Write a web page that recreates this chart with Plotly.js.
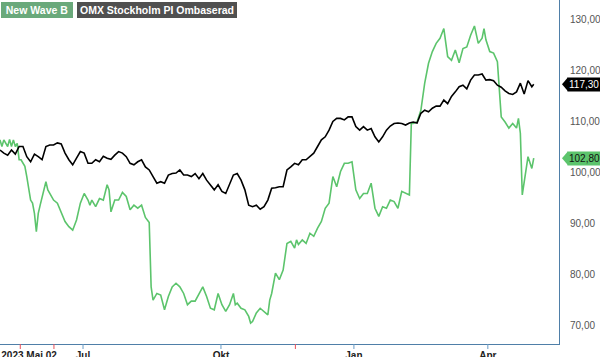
<!DOCTYPE html>
<html>
<head>
<meta charset="utf-8">
<script src="https://cdn.plot.ly/plotly-3.0.1.min.js"></script>
<style>html,body{margin:0;padding:0;background:#fff;}#chart{width:600px;height:357px;}</style>
</head>
<body>
<div id="chart"></div>
<script>
// Session index (x) and values
const nwDays = [0,1,2,4,5,6,7,8,9,10,11,12,13,14,15,16,17,18,19,20,21,22,23,24,25,26,28,30,32,34,36,38,40,42,44,46,47,48,50,52,54,56,57,58,60,62,64,66,68,70,72,74,76,78,79,80,82,84,86,88,90,92,94,96,98,100,102,104,106,108,110,112,114,116,118,120,122,123,124,126,128,130,131,132,134,136,138,140,141,142,144,146,148,150,152,154,155,156,158,160,162,164,166,168,170,172,174,176,178,180,182,184,186,188,190,192,194,196,198,200,202,204,206,208,210,212,214,215,216,218,220,222,224,226,228,230,232,234,236,238,240,242,244,246,248,250,252,253,254,256,258,260,262,264,266,268,270,271,272,273,275,276,278,279];
const nwValues = [106.4,105.1,106.4,105.1,106.5,105.1,106.4,105.1,105.7,102.5,102.5,101.8,101.2,99.2,96.6,94.6,94.0,92.0,88.4,92.0,93.6,95.3,96.6,98.2,96.6,95.9,94.6,94.0,92.0,90.4,89.4,88.7,90.7,94.0,95.9,94.6,93.6,94.6,93.3,94.9,94.6,97.6,96.6,92.3,94.6,94.6,96.1,95.3,92.7,93.6,93.0,93.6,91.2,90.2,77.6,75.0,76.3,76.0,73.1,75.7,77.6,78.3,77.6,76.3,74.1,74.8,74.8,76.3,77.6,75.7,73.4,73.1,76.3,74.1,72.8,74.1,76.3,74.1,74.4,73.4,73.1,71.8,70.5,70.8,72.5,73.4,72.8,72.1,75.0,76.3,80.3,79.0,80.9,86.1,86.5,85.2,86.8,85.9,86.8,86.1,88.1,87.5,89.1,90.4,93.0,94.0,99.2,97.2,100.2,101.8,101.8,102.1,96.6,94.9,95.9,95.9,97.9,93.0,91.4,93.3,93.0,94.6,94.3,93.0,96.3,95.9,95.6,109.6,109.6,109.9,112.2,117.5,121.4,123.7,125.3,126.3,128.2,122.7,122.0,124.0,121.5,124.3,124.6,126.9,128.7,125.3,126.3,128.2,126.0,123.7,123.4,121.7,110.9,109.9,108.7,109.6,108.7,110.6,107.7,95.6,100.5,103.1,100.8,102.8];

const omxDays = [0,2,4,6,8,10,12,14,16,18,20,22,24,26,28,30,32,34,36,38,40,42,44,46,48,50,52,54,56,58,60,62,64,66,68,70,72,74,76,78,80,82,84,86,88,90,92,94,96,98,100,102,104,106,108,110,112,114,116,118,120,122,124,126,128,130,132,134,136,138,140,142,144,146,148,150,152,154,156,158,160,162,164,166,168,170,172,174,176,178,180,182,184,186,188,190,192,194,196,198,200,202,204,206,208,210,212,214,216,218,220,222,224,226,228,230,232,234,236,238,240,242,244,246,248,250,252,254,256,258,260,262,264,266,268,270,272,274,276,278,279];
const omxValues = [104.4,103.8,103.4,104.4,103.6,105.1,105.1,103.1,102.1,103.6,103.1,102.5,105.1,105.4,105.4,105.8,105.6,103.8,102.5,101.5,102.8,104.1,103.8,101.8,101.8,102.5,102.1,103.2,102.8,102.6,103.4,104.1,103.8,103.1,101.8,101.5,102.1,102.5,101.1,100.5,99.2,97.9,98.2,97.9,99.5,99.8,99.9,100.5,99.5,99.5,99.2,99.8,98.8,99.8,98.5,97.6,96.6,97.6,96.3,95.9,97.6,99.5,99.8,98.5,96.6,93.6,93.3,93.6,92.8,93.3,94.6,96.9,97.0,97.2,97.2,100.5,101.1,101.8,101.5,102.5,102.5,103.1,103.8,105.1,106.4,107.0,108.3,110.0,110.6,110.6,110.3,110.9,110.9,109.0,108.3,109.0,108.3,108.6,107.0,106.0,107.0,108.3,109.1,109.6,109.7,109.6,109.3,109.7,109.9,109.7,111.6,112.2,111.9,112.6,113.0,113.0,114.2,113.5,114.9,115.8,116.8,117.1,116.4,118.1,119.1,119.1,119.3,118.1,118.2,118.0,117.1,116.7,116.0,115.5,115.3,115.8,117.5,115.4,118.0,116.8,117.3];

const seriesNames = ['New Wave B', 'OMX Stockholm PI Ombaserad'];
const tickPos = [15.2, 43.4, 115.5, 185, 255];
const tickText = ['2023 Mai 02', 'Jul', 'Okt', 'Jan', 'Apr'];
const blueTickPos = [43.4, 115.5, 185, 255];
const redTickPos = [10.6, 28.2, 154.4];
const yTicks = [70, 80, 90, 100, 110, 120, 130];

const GREEN = '#5cc46c';
const AXIS = '#4f7fa8';
const FONT = 'Liberation Sans, Arial, sans-serif';
const fmt = v => v.toFixed(2).replace('.', ',');

const traces = [
  {x: nwDays, y: nwValues, type: 'scatter', mode: 'lines', name: seriesNames[0],
   line: {color: GREEN, width: 1.6}, hoverinfo: 'skip'},
  {x: omxDays, y: omxValues, type: 'scatter', mode: 'lines', name: seriesNames[1],
   line: {color: '#000000', width: 1.6}, hoverinfo: 'skip'}
];

const shapes = [];
blueTickPos.forEach(p => shapes.push({type: 'line', xref: 'x', yref: 'paper', ysizemode: 'pixel', yanchor: 0,
  x0: p, x1: p, y0: 0, y1: -5, line: {color: '#6a9cc6', width: 1}}));
redTickPos.forEach(p => shapes.push({type: 'line', xref: 'x', yref: 'paper', ysizemode: 'pixel', yanchor: 0,
  x0: p, x1: p, y0: 0, y1: -5, line: {color: '#e8505a', width: 1}}));

const lastNW = nwValues[nwValues.length - 1];
const lastOMX = omxValues[omxValues.length - 1];
[[lastOMX, '#000000'], [lastNW, GREEN]].forEach(([v, c]) => shapes.push({
  type: 'path', xref: 'paper', yref: 'y', xsizemode: 'pixel', ysizemode: 'pixel', xanchor: 1, yanchor: v,
  path: 'M 3 0 L 9 7 L 9 -7 Z', fillcolor: c, line: {width: 0}
}));

const annotations = [
  {xref: 'paper', yref: 'y', x: 1, y: lastOMX, xanchor: 'left', yanchor: 'middle', xshift: 8,
   text: fmt(lastOMX), showarrow: false, bgcolor: '#000000', borderpad: 1, width: 31, align: 'left',
   font: {family: FONT, size: 10, color: '#ffffff'}},
  {xref: 'paper', yref: 'y', x: 1, y: lastNW, xanchor: 'left', yanchor: 'middle', xshift: 8,
   text: fmt(lastNW), showarrow: false, bgcolor: GREEN, borderpad: 1, width: 31, align: 'left',
   font: {family: FONT, size: 10, color: '#111111'}},
  {xref: 'paper', yref: 'paper', x: 0, y: 1, xanchor: 'left', yanchor: 'top', xshift: 1, yshift: -2,
   text: '<b>' + seriesNames[0] + '</b>', showarrow: false, bgcolor: '#6aa97b', bordercolor: '#6aa97b', borderpad: 1,
   width: 68, font: {family: FONT, size: 10.5, color: '#ffffff'}},
  {xref: 'paper', yref: 'paper', x: 0, y: 1, xanchor: 'left', yanchor: 'top', xshift: 77, yshift: -2,
   text: '<b>' + seriesNames[1] + '</b>', showarrow: false, bgcolor: '#505050', bordercolor: '#505050', borderpad: 1,
   width: 156, font: {family: FONT, size: 10.5, color: '#ffffff'}}
];

const layout = {
  width: 600, height: 357,
  margin: {l: 0, r: 41, t: 0, b: 13, pad: 0},
  paper_bgcolor: '#ffffff', plot_bgcolor: '#ffffff',
  showlegend: false,
  separators: ', ',
  font: {family: FONT, size: 10, color: '#333'},
  xaxis: {
    range: [0, 292.2], showgrid: false, zeroline: false,
    showline: true, linecolor: AXIS, linewidth: 1,
    tickmode: 'array', tickvals: tickPos, ticktext: tickText,
    ticks: '', ticklabelstandoff: 2, ticklabeloverflow: 'allow',
    tickfont: {family: FONT, size: 10, color: '#222', weight: 'bold'}
  },
  yaxis: {
    side: 'right', range: [66.4, 133.8], showgrid: false, zeroline: false,
    showline: true, linecolor: AXIS, linewidth: 1,
    tickmode: 'array', tickvals: yTicks, ticktext: yTicks.map(fmt),
    ticks: '', ticklabelstandoff: 8,
    tickfont: {family: FONT, size: 10, color: '#555'}
  },
  shapes: shapes,
  annotations: annotations
};

Plotly.newPlot('chart', traces, layout, {staticPlot: true, displayModeBar: false});
</script>
</body>
</html>
